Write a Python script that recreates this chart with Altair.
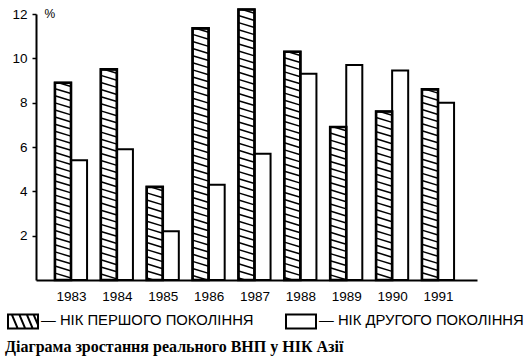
import altair as alt
import pandas as pd

years = ["1983", "1984", "1985", "1986", "1987", "1988", "1989", "1990", "1991"]
first_gen = [8.9, 9.5, 4.2, 11.35, 12.2, 10.3, 6.9, 7.6, 8.6]
second_gen = [5.4, 5.9, 2.2, 4.3, 5.7, 9.3, 9.7, 9.45, 8.0]
series = ["НІК ПЕРШОГО ПОКОЛІННЯ", "НІК ДРУГОГО ПОКОЛІННЯ"]
y_ticks = [2, 4, 6, 8, 10, 12]
caption = "Діаграма зростання реального ВНП у НІК Азії"

BAR_W = 0.35      # bar width in group-step units
HATCH_STEP = 0.32  # vertical spacing of hatch lines (data units)
HATCH_DROP = 0.22  # drop of a hatch line across a bar (data units)

rows = []
for i, (a, b) in enumerate(zip(first_gen, second_gen)):
    rows.append({"idx": i, "x0": i - BAR_W, "x1": i, "v": a, "series": series[0]})
    rows.append({"idx": i, "x0": i, "x1": i + BAR_W, "v": b, "series": series[1]})
bars = pd.DataFrame(rows)

hatch = []
for i, v in enumerate(first_gen):
    x0, x1 = i - BAR_W, i
    k = -1
    while True:
        yl = v + 0.05 - k * HATCH_STEP
        if yl <= 0:
            break
        t_top = max(0.0, (yl - v) / HATCH_DROP)
        t_bot = min(1.0, yl / HATCH_DROP)
        if t_top < t_bot:
            hatch.append({
                "hx0": x0 + t_top * (x1 - x0), "hy0": yl - HATCH_DROP * t_top,
                "hx1": x0 + t_bot * (x1 - x0), "hy1": yl - HATCH_DROP * t_bot,
            })
        k += 1
hatch_df = pd.DataFrame(hatch)

legend_df = pd.DataFrame({"series": series, "x": [0, 0], "y": [0, 0]})

hatch_path = ("M-1,-0.47H1V0.47H-1Z"
              "M-0.75,-0.47L-0.35,0.47M-0.25,-0.47L0.15,0.47"
              "M0.25,-0.47L0.65,0.47M0.7,-0.47L1,0.23")
rect_path = "M-1,-0.47H1V0.47H-1Z"

label_expr = "[" + ",".join("'%s'" % y for y in years) + "][datum.value]"

xscale = alt.Scale(domain=[-0.763, 8.85], nice=False, zero=False)
yscale = alt.Scale(domain=[0, 12], nice=False, zero=False)

x_axis = alt.Axis(values=list(range(len(years))), labelExpr=label_expr, title=None,
                  ticks=False, grid=False, domainWidth=2, domainColor="black",
                  labelFont="Liberation Sans", labelFontSize=13.5, labelColor="black",
                  labelPadding=9, labelFlush=False, labelOverlap=False)
y_axis = alt.Axis(values=y_ticks, title="%", titleAngle=0, titleX=8, titleY=-1,
                  titleAlign="left", titleBaseline="middle", titleFont="Liberation Sans",
                  titleFontSize=12, titleFontWeight="normal", titleColor="black",
                  grid=False, tickSize=4, tickWidth=1.5, tickColor="black",
                  domainWidth=2, domainColor="black",
                  labelFont="Liberation Sans", labelFontSize=13.5, labelColor="black",
                  labelPadding=5)

base_bars = alt.Chart(bars).mark_bar(fill="white", stroke="black", strokeWidth=2).encode(
    x=alt.X("x0:Q", scale=xscale, axis=x_axis),
    x2="x1:Q",
    y=alt.Y("v:Q", scale=yscale, axis=y_axis),
    y2=alt.datum(0),
)

hatch_lines = alt.Chart(hatch_df).mark_rule(color="black", strokeWidth=1.5).encode(
    x=alt.X("hx0:Q", scale=xscale),
    x2="hx1:Q",
    y=alt.Y("hy0:Q", scale=yscale),
    y2="hy1:Q",
)

outline = alt.Chart(bars).transform_filter(
    alt.datum.series == series[0]
).mark_bar(fillOpacity=0, stroke="black", strokeWidth=2.6).encode(
    x=alt.X("x0:Q", scale=xscale),
    x2="x1:Q",
    y=alt.Y("v:Q", scale=yscale),
    y2=alt.datum(0),
)

legend_layer = alt.Chart(legend_df).mark_point(opacity=0).encode(
    x=alt.X("x:Q", scale=xscale),
    y=alt.Y("y:Q", scale=yscale),
    shape=alt.Shape("series:N",
                    scale=alt.Scale(domain=series, range=[hatch_path, rect_path]),
                    legend=alt.Legend(title=None, orient="none", legendX=-29, legendY=291,
                                      direction="horizontal", padding=0,
                                      symbolSize=900, symbolStrokeWidth=2,
                                      symbolStrokeColor="black", symbolFillColor="white",
                                      symbolOpacity=1,
                                      labelFont="Liberation Sans", labelFontSize=14.8,
                                      labelColor="black", labelOffset=2, labelLimit=0,
                                      columnPadding=28,
                                      labelExpr="'— ' + datum.label")),
)

chart = alt.layer(base_bars, hatch_lines, outline, legend_layer).properties(
    width=441, height=266,
    autosize=alt.AutoSizeParams(type="none"),
    padding={"left": 36, "top": 14, "right": 51, "bottom": 80},
    background="white",
    title=alt.TitleParams(caption, orient="bottom", anchor="start",
                          font="Liberation Serif", fontSize=16, fontWeight="bold",
                          color="black", dx=-2, offset=6),
).configure_view(stroke=None)

chart.save("out.html", embed_options={"renderer": "svg", "actions": False})
